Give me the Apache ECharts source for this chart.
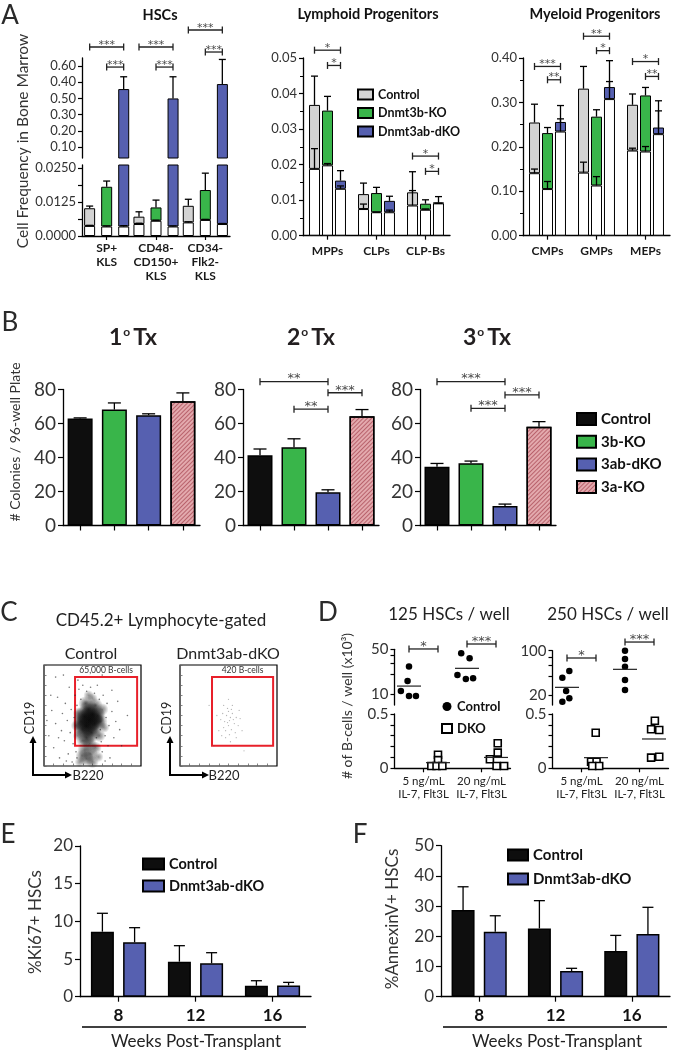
<!DOCTYPE html>
<html><head><meta charset="utf-8">
<script src="https://cdn.jsdelivr.net/npm/echarts@6/dist/echarts.min.js"></script>
<style>html,body{margin:0;padding:0;background:#fff}#c{width:673px;height:1050px}</style>
</head><body><div id="c"></div>
<script>
// ---------------- DATA ----------------
// Panel A  (rows: Control, Dnmt3b-KO, Dnmt3ab-dKO ; columns: categories)
const hscCats = ['SP+\nKLS', 'CD48-\nCD150+\nKLS', 'CD34-\nFlk2-\nKLS'];
const hscTopTicks = [0.1, 0.2, 0.3, 0.4, 0.5, 0.6];
const hscTopLabels = ['0.10', '0.20', '0.30', '0.50', '0.40', '0.60'];
const hscBottomTicks = [0, 0.00625, 0.0125, 0.01875, 0.025];
const hscBottomLabels = [0, 0.0125, 0.025];
const hscTotal = [[0.0102, 0.0071, 0.0111], [0.0181, 0.0105, 0.0169], [0.458, 0.400, 0.489]];
const hscTotalErr = [[0.0110, 0.0089, 0.0135], [0.0202, 0.0132, 0.0231], [0.534, 0.534, 0.641]];
const hscSub = [[0.0037, 0.0044, 0.0050], [0.0035, 0.0056, 0.0059], [0.0035, 0.0035, 0.0044]];
const hscSubErr = [[0.0039, 0.0047, 0.0052], [0.0037, 0.0058, 0.0061], [0.0038, 0.0037, 0.0046]];
const hscBrackets = [[0, 0, 0, 2, 0.718, '***'], [0, 1, 0, 2, 0.594, '***'], [1, 0, 1, 2, 0.718, '***'], [1, 1, 1, 2, 0.594, '***'], [2, 0, 2, 2, 0.823, '***'], [2, 1, 2, 2, 0.687, '***']];

const lymCats = ['MPPs', 'CLPs', 'CLP-Bs'];
const lymTotal = [[0.0368, 0.0117, 0.0122], [0.0352, 0.0120, 0.0090], [0.0155, 0.0098, 0.0093]];
const lymTotalErr = [[0.0449, 0.0148, 0.0180], [0.0392, 0.0136, 0.0101], [0.0183, 0.0111, 0.0110]];
const lymSub = [[0.0188, 0.0075, 0.0085], [0.0198, 0.0066, 0.0073], [0.0132, 0.0066, 0.0091]];
const lymSubErr = [[0.0245, 0.0089, 0.0127], [0.0203, 0.0066, 0.0075], [0.0140, 0.0072, 0.0091]];
const lymBrackets = [[0, 0, 0, 2, 0.0522, '*'], [0, 1, 0, 2, 0.0479, '*'], [2, 0, 2, 2, 0.0224, '*'], [2, 1, 2, 2, 0.0181, '*']];

const myeCats = ['CMPs', 'GMPs', 'MEPs'];
const myeTotal = [[0.2548, 0.331, 0.2947], [0.231, 0.268, 0.3157], [0.256, 0.3346, 0.2435]];
const myeTotalErr = [[0.296, 0.381, 0.319], [0.2435, 0.2835, 0.3337], [0.293, 0.394, 0.3037]];
const myeSub = [[0.1407, 0.142, 0.1917], [0.105, 0.113, 0.1895], [0.2345, 0.3075, 0.2286]];
const myeSubErr = [[0.150, 0.1655, 0.197], [0.122, 0.133, 0.2007], [0.263, 0.347, 0.281]];
const myeBrackets = [[0, 0, 0, 2, 0.381, '***'], [0, 1, 0, 2, 0.351, '**'], [1, 0, 1, 2, 0.449, '**'], [1, 1, 1, 2, 0.4165, '*'], [2, 0, 2, 2, 0.392, '*'], [2, 1, 2, 2, 0.3585, '**']];
const aNames = ['Control', 'Dnmt3b-KO', 'Dnmt3ab-dKO'];

// Panel B
const bGroups = ['Control', '3b-KO', '3ab-dKO', '3a-KO'];
const tx1 = [62.9, 68.2, 64.9, 73.1];
const tx1Err = [63.3, 72.1, 65.7, 78.0];
const tx2 = [41.3, 46.0, 19.5, 64.3];
const tx2Err = [45.0, 51.0, 21.0, 68.2];
const tx3 = [34.6, 36.6, 11.5, 58.1];
const tx3Err = [36.5, 37.9, 12.6, 61.1];
const tx2Brackets = [[0, 0, 2, 0, 84.6, '**'], [1, 0, 2, 0, 68.4, '**'], [2, 0, 3, 0, 78.1, '***']];
const tx3Brackets = [[0, 0, 2, 0, 84.6, '***'], [1, 0, 2, 0, 68.9, '***'], [2, 0, 3, 0, 76.8, '***']];

// Panel C  (flow events: [B220, CD19, density])
const ctrlCloud = [[47,46,10],[44,40,10],[50,51,9],[42,49,8],[52,42,8],[46,56,7],[40,36,7],[49,33,7],[55,50,6],[38,44,6],[44,28,6],[53,60,5],[43,62,5],[58,44,5],[36,52,4],[47,22,5],[42,16,5],[48,12,5],[44,7,5],[50,4,4],[39,10,4],[53,18,4],[40,25,4],[57,30,4],[60,56,4],[35,30,3],[33,40,3],[50,67,3],[62,38,3],[56,9,3],[37,4,3],[46,70,3],
[5,30,1],[8,55,1],[10,18,1],[12,42,1],[14,68,1],[16,8,1],[18,35,1],[19,52,1],[21,25,1],[22,62,1],[24,45,1],[25,12,1],[26,78,1],[27,33,1],[28,56,1],[29,4,1],[30,22,1],[31,48,1],[32,70,1],[33,14,1],[34,60,1],[35,85,1],[36,76,1],[38,66,1],[40,80,1],[44,74,1],[48,78,1],[52,72,1],[55,80,1],[57,66,1],[59,24,1],[60,14,1],[61,70,1],[63,30,1],[64,48,1],[65,62,1],[66,20,1],[67,40,1],[68,8,1],[70,54,1],[72,28,1],[74,44,1],[76,64,1],[78,36,1],[80,20,1],[12,88,1],[20,90,1],[60,90,1],[86,50,1],[7,70,1],[3,45,1],[15,28,1],[23,5,1],[63,5,1],[70,75,1],[54,28,1],[58,36,1],[34,8,1]];
const dkoCloud = [[48,50,1],[51,45,1],[50,40,1],[54,52,1],[46,44,1],[53,36,1],[49,57,1],[56,42,1],[45,38,1],[51,31,1],[58,48,1],[47,28,1],[54,60,1],[44,52,1],[50,54,1],[60,40,1],[42,46,1],[57,33,1],[52,24,1],[61,55,1],[40,35,1],[35,20,1],[66,15,1],[30,60,1],[52,48,1],[49,43,1],[55,46,1],[47,35,1],[53,56,1],[45,60,1],[58,28,1],[43,30,1],[62,47,1],[50,66,1],[38,50,1],[64,35,1]];
const ctrlGate = [[32, 20], [96, 88]];
const dkoGate = [[33, 20], [96, 88]];
const gateLabels = ['65,000 B-cells', '420 B-cells'];

// Panel D  (x: 1 = Control 5ng, 2 = DKO 5ng, 3 = Control 20ng, 4 = DKO 20ng ; y: B-cells x10^3)
const dLabels = ['5 ng/mL\nIL-7, Flt3L', '20 ng/mL\nIL-7, Flt3L'];
const d125Ctrl = [[1.0, 27], [0.95, 16], [0.72, 11.1], [1.0, 9.3], [1.24, 9.3], [2.80, 43.4], [3.09, 36.2], [2.67, 19.8], [2.96, 17.2], [3.21, 17.6]];
const d125Dko = [[2.0, 0.125], [2.0, 0.075], [1.77, 0.021], [1.95, 0.021], [2.15, 0.021], [4.06, 0.23], [4.06, 0.144], [3.79, 0.083], [4.02, 0.021], [4.28, 0.021]];
const d125CtrlMean = [[1, 13.3], [3, 25.2]];
const d125DkoMean = [[2, 0.052], [4, 0.10]];
const d250Ctrl = [[1.08, 47.9], [0.84, 37.5], [0.97, 23.1], [0.84, 15.7], [1.08, 17.8], [3, 100], [3, 74], [3, 55.8], [3, 34.4], [3, 24]];
const d250Dko = [[1.99, 0.328], [1.83, 0.061], [2.02, 0.061], [1.87, 0.021], [2.11, 0.021], [4.03, 0.438], [3.90, 0.359], [4.18, 0.353], [3.90, 0.098], [4.18, 0.107]];
const d250CtrlMean = [[1, 26.4], [3, 50.8]];
const d250DkoMean = [[2, 0.098], [4, 0.27]];
const d125Brackets = [[1, 0, 2, 0, 50.6, '*'], [3, 0, 4, 0, 60.5, '***']];
const d250Brackets = [[1, 0, 2, 0, 76.7, '*'], [3, 0, 4, 0, 137, '***']];

// Panels E / F
const weeks = ['8', '12', '16'];
const eCtrl = [8.63, 4.65, 1.46];
const eCtrlErr = [11.07, 6.77, 2.12];
const eDko = [7.22, 4.43, 1.50];
const eDkoErr = [9.16, 5.84, 1.90];
const fCtrl = [28.7, 22.6, 15.1];
const fCtrlErr = [36.4, 31.8, 20.3];
const fDko = [21.5, 8.5, 20.8];
const fDkoErr = [26.8, 9.4, 29.6];

// ---------------- STYLE ----------------
const FONT = 'Lato, "Open Sans", sans-serif';
const STAR_FONT = '"DejaVu Sans", sans-serif';
const GRAY = '#d3d3d3', GREEN = '#39b54a', BLUE = '#5660b0', BLACK = '#0e0e0e', PINK = '#e3a9ad';
const AX = { show: true, lineStyle: { color: '#000', width: 1.3 } };
const TK = { show: true, length: 4, lineStyle: { color: '#000', width: 1.2 } };
const NOSPLIT = { show: false };

// ---------------- HELPERS ----------------
function errSeries(xi, yi, items, n, barW, gapW, capW, lo, hi) {
  return {
    type: 'custom', xAxisIndex: xi, yAxisIndex: yi, z: 5, silent: true, clip: false,
    encode: { x: 0, y: 2 }, data: items,
    renderItem: (p, api) => {
      const cat = api.value(0), bi = api.value(1), base = api.value(2), top = api.value(3);
      if (base < lo || base > hi) return null;
      const off = (bi - (n - 1) / 2) * (barW + gapW);
      const a = api.coord([cat, base]), b = api.coord([cat, Math.min(top, hi)]);
      const x = a[0] + off;
      const st = { stroke: '#000', lineWidth: 1.3 };
      return { type: 'group', children: [
        { type: 'line', shape: { x1: x, y1: a[1], x2: x, y2: b[1] }, style: st },
        { type: 'line', shape: { x1: x - capW / 2, y1: b[1], x2: x + capW / 2, y2: b[1] }, style: st }] };
    }
  };
}
function brkSeries(xi, yi, list, n, barW, gapW, fs) {
  return {
    type: 'custom', xAxisIndex: xi, yAxisIndex: yi, z: 6, silent: true, clip: false,
    encode: { x: 0, y: 1 }, data: list.map(b => [b[0], b[4]]),
    renderItem: (p, api) => {
      const b = list[p.dataIndex];
      const off = i => (i - (n - 1) / 2) * (barW + gapW);
      const p1 = api.coord([b[0], b[4]]), p2 = api.coord([b[2], b[4]]);
      const x1 = p1[0] + off(b[1]), x2 = p2[0] + off(b[3]), y = p1[1];
      const st = { stroke: '#222', lineWidth: 1.3 };
      return { type: 'group', children: [
        { type: 'line', shape: { x1, y1: y, x2, y2: y }, style: st },
        { type: 'line', shape: { x1, y1: y - 3.5, x2: x1, y2: y + 3.5 }, style: st },
        { type: 'line', shape: { x1: x2, y1: y - 3.5, x2, y2: y + 3.5 }, style: st },
        { type: 'text', style: { text: b[5], x: (x1 + x2) / 2, y: y + fs * 0.3, align: 'center', verticalAlign: 'bottom', fill: '#4a4a4a', font: `${fs}px ${STAR_FONT}` } }] };
    }
  };
}
function meanSeries(xi, yi, list, half) {
  return {
    type: 'custom', xAxisIndex: xi, yAxisIndex: yi, z: 4, silent: true, clip: false,
    encode: { x: 0, y: 1 }, data: list,
    renderItem: (p, api) => {
      const c = api.coord([api.value(0), api.value(1)]);
      return { type: 'line', shape: { x1: c[0] - half, y1: c[1], x2: c[0] + half, y2: c[1] }, style: { stroke: '#222', lineWidth: 1.2 } };
    }
  };
}
function aBars(xi, yi, totals, subs, tag, barW, gap) {
  const colors = [GRAY, GREEN, BLUE];
  const out = [];
  for (let g = 0; g < 3; g++) {
    out.push({ type: 'bar', name: 'A:white', xAxisIndex: xi, yAxisIndex: yi, stack: tag + g, clip: true, silent: true,
      barWidth: barW, barGap: gap, data: subs[g], itemStyle: { color: '#fff', borderColor: '#000', borderWidth: 1 } });
    out.push({ type: 'bar', name: 'A:' + aNames[g], xAxisIndex: xi, yAxisIndex: yi, stack: tag + g, clip: true,
      barWidth: barW, barGap: gap, data: totals[g].map((t, i) => t - subs[g][i]),
      itemStyle: { color: colors[g], borderColor: '#000', borderWidth: 1 } });
  }
  return out;
}
function aErrItems(totals, totErr, subs, subErr) {
  const items = [];
  for (let g = 0; g < 3; g++) for (let c = 0; c < 3; c++) {
    items.push([c, g, subs[g][c], subErr[g][c]]);
    items.push([c, g, totals[g][c], totErr[g][c]]);
  }
  return items;
}
function txt(text, x, y, size, o = {}) {
  return { type: 'text', x, y, rotation: o.rot || 0, silent: true,
    style: { text, x: 0, y: 0, fill: o.color || '#2a2a2a', font: `${o.weight || 'normal'} ${size}px ${FONT}`, align: o.align || 'center', verticalAlign: 'middle', rich: o.rich } };
}
function txTitle(n, x) {
  return txt(`{n|${n}}{s|o}{n|Tx}`, x, 338, 22, { rich: {
    n: { font: `bold 23px ${FONT}`, fill: '#231f20' },
    s: { font: `bold 12px ${FONT}`, fill: '#231f20', verticalAlign: 'top', padding: [0, 3, 0, 1] } } });
}

// ---------------- GRIDS & AXES ----------------
const grids = [
  { left: 82, top: 58, width: 148, height: 100 },       // 0 HSC top
  { left: 82, top: 165, width: 148, height: 71 },       // 1 HSC bottom
  { left: 303, top: 58, width: 147, height: 177.7 },    // 2 lymphoid
  { left: 523, top: 58, width: 147, height: 177.7 },    // 3 myeloid
  { left: 63, top: 389.5, width: 137, height: 136 },    // 4 B1
  { left: 243, top: 389.5, width: 136, height: 136 },   // 5 B2
  { left: 420, top: 389.5, width: 136, height: 136 },   // 6 B3
  { left: 44, top: 665, width: 97, height: 101, show: true, borderColor: '#000', borderWidth: 1.2 },  // 7 C ctrl
  { left: 180, top: 665, width: 97, height: 101, show: true, borderColor: '#000', borderWidth: 1.2 }, // 8 C dko
  { left: 394.5, top: 649.3, width: 116, height: 55.7 }, // 9 D125 top
  { left: 394.5, top: 714, width: 116, height: 54.3 },   // 10 D125 bottom
  { left: 552.5, top: 650.7, width: 116, height: 54.3 }, // 11 D250 top
  { left: 552.5, top: 714, width: 116, height: 54.3 },   // 12 D250 bottom
  { left: 80, top: 846, width: 231, height: 150.7 },     // 13 E
  { left: 441, top: 845.7, width: 229, height: 151 }     // 14 F
].map(g => Object.assign({ outerBoundsMode: 'none', containLabel: false }, g));

const catLabA = { fontSize: 12, fontWeight: 'bold', color: '#1a1a1a', lineHeight: 14, margin: 8, fontFamily: FONT, interval: 0, hideOverlap: false };
const ylabA = { fontSize: 13, color: '#333', margin: 6, fontFamily: FONT };
const flowTick = { show: true, inside: true, length: 2.5, lineStyle: { color: '#666', width: 0.8 } };
const xAxes = [
  { gridIndex: 0, type: 'category', data: hscCats, show: false },
  { gridIndex: 1, type: 'category', data: hscCats, axisLine: AX, axisTick: { ...TK, alignWithLabel: true, interval: 0 }, axisLabel: { ...catLabA, margin: 5 } },
  { gridIndex: 2, type: 'category', data: lymCats, axisLine: AX, axisTick: { ...TK, alignWithLabel: true, interval: 0 }, axisLabel: catLabA },
  { gridIndex: 3, type: 'category', data: myeCats, axisLine: AX, axisTick: { ...TK, alignWithLabel: true, interval: 0 }, axisLabel: catLabA },
  ...[4, 5, 6].map(g => ({ gridIndex: g, type: 'category', data: bGroups, axisLine: AX, axisTick: { ...TK, length: 5, alignWithLabel: true, interval: 0 }, axisLabel: { show: false } })),
  ...[7, 8].map(g => ({ gridIndex: g, type: 'value', min: 0, max: 100, interval: 10, axisLine: { show: false }, axisTick: flowTick, axisLabel: { show: false }, splitLine: NOSPLIT })),
  { gridIndex: 9, type: 'value', min: 0.5, max: 4.5, show: false, splitLine: NOSPLIT },
  { gridIndex: 10, type: 'value', min: 0.5, max: 4.5, axisLine: AX, splitLine: NOSPLIT,
    axisTick: { ...TK, customValues: [1.5, 3.5] },
    axisLabel: { customValues: [1.5, 3.5], formatter: v => dLabels[v < 2.5 ? 0 : 1], fontSize: 11.5, lineHeight: 13.5, color: '#222', margin: 6, fontFamily: FONT } },
  { gridIndex: 11, type: 'value', min: 0.5, max: 4.5, show: false, splitLine: NOSPLIT },
  { gridIndex: 12, type: 'value', min: 0.5, max: 4.5, axisLine: AX, splitLine: NOSPLIT,
    axisTick: { ...TK, customValues: [1.5, 3.5] },
    axisLabel: { customValues: [1.5, 3.5], formatter: v => dLabels[v < 2.5 ? 0 : 1], fontSize: 11.5, lineHeight: 13.5, color: '#222', margin: 6, fontFamily: FONT } },
  ...[13, 14].map(g => ({ gridIndex: g, type: 'category', data: weeks, axisLine: AX, axisTick: { ...TK, length: 5, alignWithLabel: true, interval: 0 },
    axisLabel: { fontSize: 17, fontWeight: 'bold', color: '#111', margin: 10, fontFamily: FONT, interval: 0 } }))
];
const yAxes = [
  { gridIndex: 0, type: 'value', min: 0.032, max: 0.65, axisLine: AX, splitLine: NOSPLIT,
    axisTick: { ...TK, customValues: hscTopTicks },
    axisLabel: { ...ylabA, customValues: hscTopTicks, formatter: v => hscTopLabels[Math.round(v * 10) - 1] } },
  { gridIndex: 1, type: 'value', min: 0, max: 0.0261, axisLine: AX, splitLine: NOSPLIT,
    axisTick: { ...TK, customValues: hscBottomTicks },
    axisLabel: { ...ylabA, customValues: hscBottomLabels, formatter: v => v.toFixed(4) } },
  { gridIndex: 2, type: 'value', min: 0, max: 0.05, interval: 0.01, axisLine: AX, axisTick: TK, splitLine: NOSPLIT,
    minorTick: { show: true, splitNumber: 2, length: 3, lineStyle: { color: '#000', width: 1 } }, minorSplitLine: { show: false },
    axisLabel: { ...ylabA, formatter: v => v.toFixed(2) } },
  { gridIndex: 3, type: 'value', min: 0, max: 0.4, interval: 0.1, axisLine: AX, axisTick: TK, splitLine: NOSPLIT,
    minorTick: { show: true, splitNumber: 2, length: 3, lineStyle: { color: '#000', width: 1 } }, minorSplitLine: { show: false },
    axisLabel: { ...ylabA, formatter: v => v.toFixed(2) } },
  ...[4, 5, 6].map(g => ({ gridIndex: g, type: 'value', min: 0, max: 80, interval: 20, axisLine: AX, axisTick: { ...TK, length: 5 }, splitLine: NOSPLIT,
    axisLabel: { fontSize: 19, color: '#333', margin: 7, fontFamily: FONT } })),
  ...[7, 8].map(g => ({ gridIndex: g, type: 'value', min: 0, max: 100, interval: 10, axisLine: { show: false }, axisTick: flowTick, axisLabel: { show: false }, splitLine: NOSPLIT })),
  { gridIndex: 9, type: 'log', logBase: 10, min: 6.73, max: 50, axisLine: AX, splitLine: NOSPLIT, minorTick: { show: false },
    axisTick: { ...TK, customValues: [10, 20, 30, 40, 50] },
    axisLabel: { customValues: [10, 50], fontSize: 15, color: '#333', margin: 6, fontFamily: FONT } },
  { gridIndex: 10, type: 'value', min: 0, max: 0.5, interval: 0.1, axisLine: AX, axisTick: TK, splitLine: NOSPLIT,
    axisLabel: { customValues: [0, 0.5], fontSize: 15, color: '#333', margin: 6, fontFamily: FONT } },
  { gridIndex: 11, type: 'log', logBase: 10, min: 13.9, max: 100, axisLine: AX, splitLine: NOSPLIT, minorTick: { show: false },
    axisTick: { ...TK, customValues: [20, 40, 60, 80, 100] },
    axisLabel: { customValues: [20, 100], fontSize: 15, color: '#333', margin: 6, fontFamily: FONT } },
  { gridIndex: 12, type: 'value', min: 0, max: 0.5, interval: 0.1, axisLine: AX, axisTick: TK, splitLine: NOSPLIT,
    axisLabel: { customValues: [0, 0.5], fontSize: 15, color: '#333', margin: 6, fontFamily: FONT } },
  { gridIndex: 13, type: 'value', min: 0, max: 20, interval: 5, axisLine: AX, axisTick: { ...TK, length: 5 }, splitLine: NOSPLIT,
    axisLabel: { fontSize: 17, color: '#333', margin: 7, fontFamily: FONT } },
  { gridIndex: 14, type: 'value', min: 0, max: 50, interval: 10, axisLine: AX, axisTick: { ...TK, length: 5 }, splitLine: NOSPLIT,
    axisLabel: { fontSize: 17, color: '#333', margin: 7, fontFamily: FONT } }
];

// ---------------- SERIES ----------------
const series = [];
// Panel A
const WA = 11;
series.push(...aBars(0, 0, hscTotal, hscSub, 'h0', WA, '55%'));
series.push(...aBars(1, 1, hscTotal, hscSub, 'h1', WA, '55%'));
series.push(errSeries(0, 0, aErrItems(hscTotal, hscTotalErr, hscSub, hscSubErr), 3, WA, 6, 7, 0.032, 0.65));
series.push(errSeries(1, 1, aErrItems(hscTotal, hscTotalErr, hscSub, hscSubErr), 3, WA, 6, 7, 0, 0.0261));
series.push(brkSeries(0, 0, hscBrackets, 3, WA, 6, 11));
series.push(...aBars(2, 2, lymTotal, lymSub, 'l', WA, '18%'));
series.push(errSeries(2, 2, aErrItems(lymTotal, lymTotalErr, lymSub, lymSubErr), 3, WA, 2, 7, 0, 0.05));
series.push(brkSeries(2, 2, lymBrackets, 3, WA, 2, 11));
series.push(...aBars(3, 3, myeTotal, myeSub, 'm', WA, '18%'));
series.push(errSeries(3, 3, aErrItems(myeTotal, myeTotalErr, myeSub, myeSubErr), 3, WA, 2, 7, 0, 0.4));
series.push(brkSeries(3, 3, myeBrackets, 3, WA, 2, 11));

// Panel B
const bStyles = [
  { color: BLACK, borderColor: '#000', borderWidth: 1.5 },
  { color: GREEN, borderColor: '#000', borderWidth: 1.5 },
  { color: BLUE, borderColor: '#000', borderWidth: 1.5 },
  { color: PINK, borderColor: '#000', borderWidth: 1.5,
    decal: { symbol: 'rect', symbolSize: 1, color: 'rgba(150,40,55,0.55)', dashArrayX: [1, 0], dashArrayY: [1, 2], rotation: -Math.PI / 4 } }
];
[[tx1, tx1Err], [tx2, tx2Err], [tx3, tx3Err]].forEach(([vals, errs], t) => {
  bGroups.forEach((g, k) => {
    series.push({ type: 'bar', name: 'B:' + g, xAxisIndex: 4 + t, yAxisIndex: 4 + t, stack: 'b' + t, barWidth: 25,
      data: vals.map((v, i) => (i === k ? v : '-')), itemStyle: bStyles[k] });
  });
  series.push(errSeries(4 + t, 4 + t, vals.map((v, i) => [i, 0, v, errs[i]]), 1, 25, 0, 13, 0, 80));
});
series.push(brkSeries(5, 5, tx2Brackets, 1, 0, 0, 13));
series.push(brkSeries(6, 6, tx3Brackets, 1, 0, 0, 13));

// Panel C
function cloudSeries(xi, yi, pts, gate, gateLabel, speck, speckSize) {
  return {
    type: 'scatter', name: 'C', xAxisIndex: xi, yAxisIndex: yi, data: pts, silent: true, clip: true,
    symbol: 'circle',
    symbolSize: v => (v[2] >= 3 ? 4 + v[2] * 2.2 : speckSize),
    itemStyle: { opacity: 1, color: p => {
      const w = p.data[2];
      if (w < 3) return speck;
      const a = Math.min(0.95, 0.2 + w * 0.08);
      return new echarts.graphic.RadialGradient(0.5, 0.5, 0.5, [
        { offset: 0, color: `rgba(10,10,10,${a})` }, { offset: 0.45, color: `rgba(10,10,10,${a * 0.6})` }, { offset: 1, color: 'rgba(10,10,10,0)' }]);
    } },
    markArea: { silent: true, itemStyle: { color: 'rgba(0,0,0,0)', borderColor: '#e8202a', borderWidth: 2 },
      label: { show: true, position: 'top', distance: 1, formatter: gateLabel, fontSize: 8.5, color: '#333', fontFamily: FONT },
      data: [[{ coord: gate[0] }, { coord: gate[1] }]] }
  };
}
series.push(cloudSeries(7, 7, ctrlCloud, ctrlGate, gateLabels[0], 'rgba(30,30,30,0.6)', 1.6));
series.push(cloudSeries(8, 8, dkoCloud, dkoGate, gateLabels[1], 'rgba(90,90,90,0.45)', 1.3));

// Panel D
const dCtrlStyle = { symbol: 'circle', symbolSize: 6.5, itemStyle: { color: '#000', opacity: 1 } };
const dDkoStyle = { symbol: 'rect', symbolSize: 7, itemStyle: { color: '#fff', borderColor: '#000', borderWidth: 1.6, opacity: 1 } };
series.push({ type: 'scatter', name: 'D:Control', xAxisIndex: 9, yAxisIndex: 9, data: d125Ctrl, ...dCtrlStyle });
series.push({ type: 'scatter', name: 'D:DKO', xAxisIndex: 10, yAxisIndex: 10, data: d125Dko, clip: false, ...dDkoStyle });
series.push({ type: 'scatter', name: 'D:Control', xAxisIndex: 11, yAxisIndex: 11, data: d250Ctrl, ...dCtrlStyle });
series.push({ type: 'scatter', name: 'D:DKO', xAxisIndex: 12, yAxisIndex: 12, data: d250Dko, clip: false, ...dDkoStyle });
series.push(meanSeries(9, 9, d125CtrlMean, 12), meanSeries(10, 10, d125DkoMean, 12), meanSeries(11, 11, d250CtrlMean, 12), meanSeries(12, 12, d250DkoMean, 12));
series.push(brkSeries(9, 9, d125Brackets, 1, 0, 0, 13), brkSeries(11, 11, d250Brackets, 1, 0, 0, 13));

// Panels E, F
[[13, 'E', eCtrl, eCtrlErr, eDko, eDkoErr], [14, 'F', fCtrl, fCtrlErr, fDko, fDkoErr]].forEach(([gi, tag, c, ce, d, de]) => {
  series.push({ type: 'bar', name: tag + ':Control', xAxisIndex: gi, yAxisIndex: gi, barWidth: 23, barGap: '40%', data: c, itemStyle: { color: BLACK, borderColor: '#000', borderWidth: 1.5 } });
  series.push({ type: 'bar', name: tag + ':Dnmt3ab-dKO', xAxisIndex: gi, yAxisIndex: gi, barWidth: 23, barGap: '40%', data: d, itemStyle: { color: BLUE, borderColor: '#000', borderWidth: 1.5 } });
  const items = c.map((v, i) => [i, 0, v, ce[i]]).concat(d.map((v, i) => [i, 1, v, de[i]]));
  series.push(errSeries(gi, gi, items, 2, 23, 9.2, 11, 0, 100));
});

// ---------------- LEGENDS ----------------
const stripName = n => n.split(':')[1];
const legends = [
  { left: 357, top: 88, orient: 'vertical', itemWidth: 15, itemHeight: 10, itemGap: 5.5, icon: 'rect',
    data: aNames.map(n => 'A:' + n), textStyle: { fontSize: 12.5, fontWeight: 'bold', color: '#111', fontFamily: FONT } },
  { left: 576, top: 411.5, orient: 'vertical', itemWidth: 19, itemHeight: 12, itemGap: 7.7, icon: 'rect',
    data: bGroups.map(n => 'B:' + n), textStyle: { fontSize: 15, fontWeight: 'bold', color: '#111', fontFamily: FONT } },
  { left: 441, top: 700, orient: 'vertical', itemWidth: 10, itemHeight: 9, itemGap: 9,
    data: ['D:Control', 'D:DKO'], textStyle: { fontSize: 13, fontWeight: 'bold', color: '#111', fontFamily: FONT } },
  { left: 142, top: 856.5, orient: 'vertical', itemWidth: 21, itemHeight: 11, itemGap: 7, icon: 'rect',
    data: ['E:Control', 'E:Dnmt3ab-dKO'], textStyle: { fontSize: 14.5, fontWeight: 'bold', color: '#111', fontFamily: FONT } },
  { left: 507, top: 847.5, orient: 'vertical', itemWidth: 20, itemHeight: 11, itemGap: 9, icon: 'rect',
    data: ['F:Control', 'F:Dnmt3ab-dKO'], textStyle: { fontSize: 15, fontWeight: 'bold', color: '#111', fontFamily: FONT } }
].map(l => Object.assign({ selectedMode: false, formatter: stripName, padding: 0 }, l));

// ---------------- TEXT / DECORATION ----------------
const R90 = Math.PI / 2;
const arrowStyle = { stroke: '#000', lineWidth: 2, fill: null };
function flowArrows(x0) {
  return [
    { type: 'polyline', silent: true, shape: { points: [[x0, 742], [x0, 775], [x0 + 33, 775]] }, style: arrowStyle },
    { type: 'polygon', silent: true, shape: { points: [[x0, 736], [x0 - 3.5, 743], [x0 + 3.5, 743]] }, style: { fill: '#000' } },
    { type: 'polygon', silent: true, shape: { points: [[x0 + 39, 775], [x0 + 32, 771.5], [x0 + 32, 778.5]] }, style: { fill: '#000' } }
  ];
}
const graphics = [
  txt('A', 10, 16, 26), txt('B', 10, 323, 26), txt('C', 9, 613, 26), txt('D', 328, 613, 26), txt('E', 8, 835, 26), txt('F', 360, 835, 26),
  txt('HSCs', 160, 15, 14.5, { weight: 'bold', color: '#111' }),
  txt('Lymphoid Progenitors', 368, 14, 14.5, { weight: 'bold', color: '#111' }),
  txt('Myeloid Progenitors', 595, 14, 14.5, { weight: 'bold', color: '#111' }),
  txt('Cell Frequency in Bone Marrow', 23, 141, 15.5, { rot: R90, color: '#333' }),
  txTitle('1', 133), txTitle('2', 311), txTitle('3', 487),
  txt('# Colonies / 96-well Plate', 15, 442, 14, { rot: R90, color: '#333' }),
  txt('CD45.2+ Lymphocyte-gated', 161, 621, 17, { color: '#222' }),
  txt('Control', 91, 654, 16, { color: '#222' }),
  txt('Dnmt3ab-dKO', 228, 654, 16, { color: '#222' }),
  txt('CD19', 30, 718, 12.5, { rot: R90, color: '#222' }),
  txt('CD19', 167, 718, 12.5, { rot: R90, color: '#222' }),
  txt('B220', 88, 776, 13, { color: '#222' }),
  txt('B220', 224, 776, 13, { color: '#222' }),
  ...flowArrows(33), ...flowArrows(170),
  txt('125 HSCs / well', 449, 615, 17, { color: '#222' }),
  txt('250 HSCs / well', 608, 615, 17, { color: '#222' }),
  txt('# of B-cells / well (x10³)', 347, 706, 14, { rot: R90, color: '#333' }),
  txt('%Ki67+ HSCs', 36, 922, 17, { rot: R90, color: '#333' }),
  txt('%AnnexinV+ HSCs', 393, 919, 17, { rot: R90, color: '#333' }),
  { type: 'line', silent: true, shape: { x1: 82, y1: 1027, x2: 306, y2: 1027 }, style: { stroke: '#000', lineWidth: 1.5 } },
  { type: 'line', silent: true, shape: { x1: 443, y1: 1027, x2: 667, y2: 1027 }, style: { stroke: '#000', lineWidth: 1.5 } },
  txt('Weeks Post-Transplant', 196, 1042, 17, { color: '#222' }),
  txt('Weeks Post-Transplant', 557, 1042, 17, { color: '#222' })
];

const chart = echarts.init(document.getElementById('c'), null, { renderer: 'canvas' });
chart.setOption({
  animation: false,
  backgroundColor: '#fff',
  textStyle: { fontFamily: FONT },
  grid: grids, xAxis: xAxes, yAxis: yAxes, series, legend: legends,
  graphic: { elements: graphics }
});
</script></body></html>
